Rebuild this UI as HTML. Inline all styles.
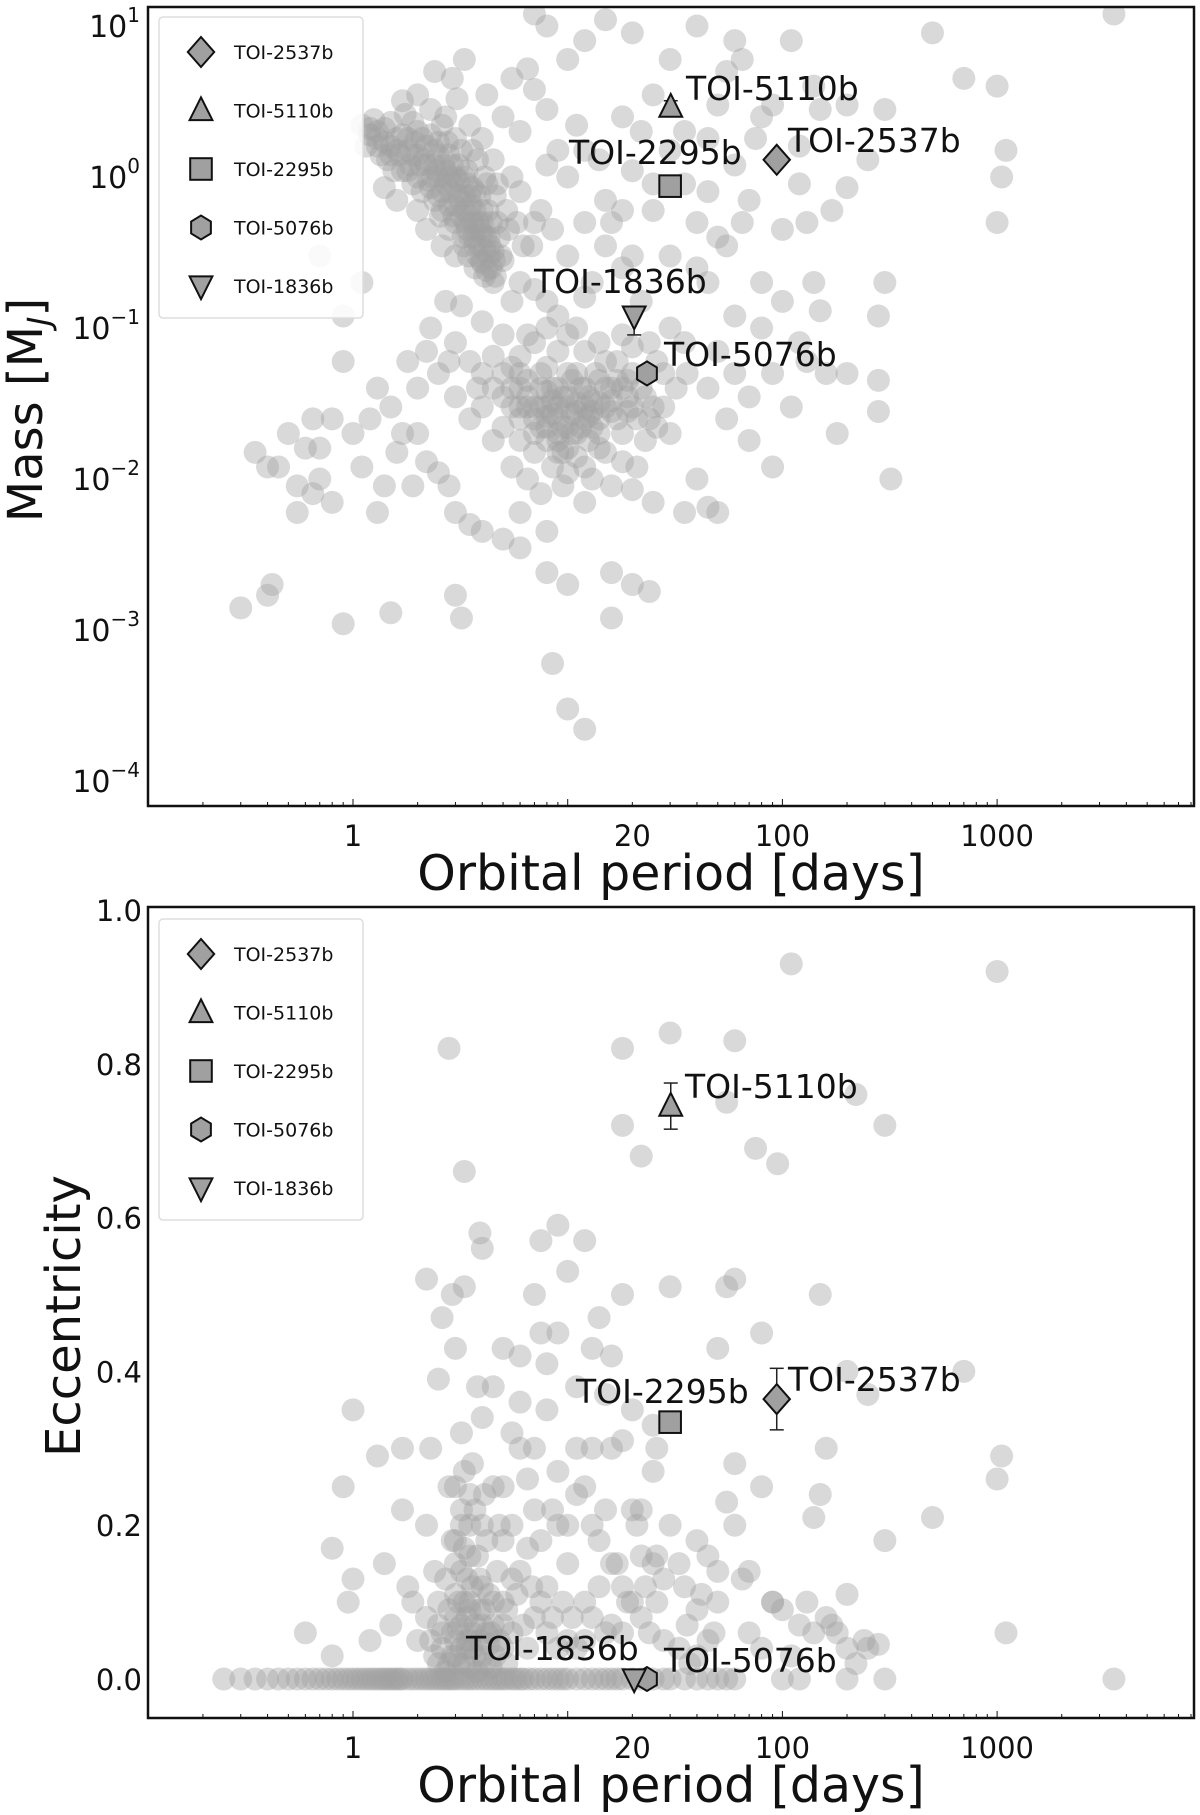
<!DOCTYPE html>
<html><head><meta charset="utf-8">
<style>
html,body{margin:0;padding:0;background:#fff;}
svg{display:block;font-family:"DejaVu Sans","Liberation Sans",sans-serif;}
</style></head>
<body>
<svg id="fig" width="1200" height="1815" viewBox="0 0 1200 1815" xmlns="http://www.w3.org/2000/svg">
<defs>
<clipPath id="clipTop"><rect x="148" y="7" width="1046" height="799"/></clipPath>
<clipPath id="clipBot"><rect x="148" y="907" width="1046" height="811"/></clipPath>
</defs>
<g id="topBg" clip-path="url(#clipTop)"></g>
<g id="botBg" clip-path="url(#clipBot)"></g>
<g id="topAx"></g>
<g id="botAx"></g>
</svg>
<script>
// ---- data ----
const massPoints = [[1.1,2.2],[1.2,1.9],[1.25,2.4],[1.3,1.6],[1.4,2.1],[1.45,1.3],[1.5,2.3],[1.6,1.8],[1.7,1.1],[1.75,2.6],[1.8,1.5],[1.9,0.9],[2.0,2.0],[2.05,1.2],[2.1,0.8],[2.2,1.6],[2.3,2.8],[2.35,1.0],[2.4,0.7],[2.5,1.4],[2.55,0.55],[2.6,2.2],[2.7,0.9],[2.75,1.7],[2.8,0.45],[2.9,1.2],[3.0,0.65],[3.05,3.3],[3.1,0.95],[3.2,1.5],[3.25,0.4],[3.3,0.75],[3.4,1.1],[3.45,0.3],[3.5,0.55],[3.6,0.85],[3.7,0.25],[3.75,0.45],[3.8,1.3],[3.9,0.35],[4.0,0.6],[4.1,0.22],[4.2,0.9],[4.3,0.3],[4.4,0.5],[4.5,0.2],[4.6,0.75],[4.8,0.4],[5.0,0.28],[5.2,0.6],[5.5,1.0],[5.8,0.5],[6.0,0.8],[2.2,0.45],[2.6,0.35],[3.0,0.3],[2.0,0.6],[1.6,0.7],[1.4,0.85],[3.5,2.2],[4,1.8],[4.5,1.3],[5,2.5],[2.9,4.5],[2.4,5],[3.3,6],[2.0,3.5],[1.7,3.2],[4.2,3.5],[5.5,4.5],[6.5,5.2],[7,3.8],[8,2.8],[9,1.5],[10,1.0],[7.5,0.6],[6.8,0.35],[8.5,0.45],[10,0.3],[12,0.5],[11,2.2],[14,1.3],[15,0.7],[18,2.5],[20,1.1],[25,0.6],[30,1.5],[35,0.9],[40,0.5],[45,1.8],[50,0.4],[60,1.2],[70,0.7],[80,2.5],[100,0.45],[120,0.9],[150,2.8],[200,0.85],[250,1.3],[300,2.8],[500,9],[700,4.5],[1000,4],[1100,1.5],[1050,1.0],[1000,0.5],[3500,12],[300,0.2],[280,0.12],[280,0.045],[280,0.028],[320,0.01],[200,0.05],[180,0.02],[150,0.13],[120,0.08],[100,0.15],[80,0.2],[60,0.12],[50,0.07],[45,0.04],[55,0.025],[70,0.018],[90,0.012],[110,0.03],[130,0.06],[40,0.01],[35,0.006],[30,0.02],[25,0.03],[22,0.15],[18,0.25],[15,0.35],[13,0.2],[30,0.3],[40,0.25],[55,5],[60,8],[40,10],[30,6],[25,3.5],[20,9],[15,11],[10,6],[12,8],[8,10],[7,12],[110,8],[200,3],[35,2],[3,0.08],[3.5,0.06],[4,0.05],[4.5,0.04],[5,0.035],[5.5,0.03],[6,0.025],[6.5,0.045],[7,0.02],[7.5,0.03],[8,0.018],[8.5,0.04],[9,0.025],[9.5,0.015],[10,0.03],[10.5,0.02],[11,0.05],[12,0.012],[12.5,0.035],[13,0.022],[14,0.045],[15,0.015],[16,0.028],[17,0.06],[18,0.02],[19,0.035],[20,0.05],[22,0.04],[24,0.025],[26,0.06],[28,0.03],[6,0.065],[7,0.08],[8,0.055],[9,0.07],[10,0.09],[11,0.1],[5,0.09],[4,0.11],[3.2,0.14],[4.5,0.018],[5.5,0.012],[6.5,0.01],[7.5,0.008],[8.5,0.012],[9.5,0.009],[3.5,0.025],[3,0.035],[2.5,0.05],[2.2,0.07],[2,0.04],[2,0.02],[1.5,0.03],[1.2,0.025],[1,0.02],[0.8,0.025],[0.6,0.016],[0.7,0.01],[0.8,0.007],[0.55,0.006],[0.65,0.008],[1.1,0.012],[1.4,0.009],[1.6,0.015],[2.5,0.011],[3,0.006],[3.5,0.005],[4,0.0045],[5,0.004],[6,0.006],[8,0.0045],[12,0.007],[16,0.009],[20,0.0085],[25,0.007],[45,0.0065],[50,0.006],[6,0.0035],[8,0.0024],[10,0.002],[16,0.0024],[20,0.002],[24,0.0018],[3,0.0017],[3.2,0.0012],[1.5,0.0013],[0.3,0.0014],[0.4,0.0017],[0.42,0.002],[0.9,0.0011],[8.5,0.0006],[10,0.0003],[12,0.00022],[16,0.0012],[0.35,0.015],[0.55,0.009],[0.9,0.06],[0.9,0.12],[1.1,0.2],[0.7,0.3],[0.45,0.012],[0.65,0.025],[7,0.03],[9,0.04],[11,0.028],[13,0.033],[6,0.04],[8,0.03],[10,0.022],[12,0.03],[14,0.025],[5,0.05],[7.5,0.05],[16,0.04],[20,0.03],[9,0.015]];
const massPointsExtra = [[1.15,1.6],[1.3,2.0],[1.35,1.4],[1.5,1.6],[1.55,1.1],[1.65,1.4],[1.85,1.2],[1.95,1.7],[2.15,1.3],[2.25,0.95],[2.45,1.1],[2.65,1.2],[2.85,0.8],[2.95,0.55],[3.15,0.7],[3.35,0.5],[3.55,0.65],[3.65,0.4],[3.85,0.5],[3.95,0.28],[4.15,0.4],[4.25,0.6],[4.35,0.35],[4.55,0.28],[4.7,0.5],[2.5,0.75],[2.8,1.0],[3.1,1.2],[3.0,1.8],[2.7,2.5],[2.3,1.9],[1.9,2.3],[2.6,0.6],[3.4,0.9],[3.9,0.75],[4.1,1.0],[3.7,0.6],[3.3,0.35],[4.0,0.42],[4.4,0.25],[3.6,1.5],[4.7,0.9],[5.3,0.45],[6.2,0.35],[7,0.5],[6,0.2],[5.5,0.15],[7,0.18],[9,0.12],[8,0.15],[12,0.16],[6.5,0.09],[8,0.1],[12,0.07],[14,0.08],[15,0.06],[18,0.09],[20,0.075],[24,0.08],[30,0.1],[35,0.08],[36,0.05],[32,0.04],[28,0.05],[26,0.022],[23,0.018],[21,0.012],[18,0.013],[14,0.016],[13,0.01],[11,0.014],[10,0.011],[9,0.02],[8,0.022],[7,0.015],[6,0.018],[5,0.022],[4,0.03],[4.5,0.065],[5.5,0.055],[6.5,0.03],[7.5,0.04],[8.5,0.027],[9.5,0.035],[10.5,0.045],[11.5,0.022],[12.5,0.018],[13.5,0.05],[15,0.03],[17,0.025],[19,0.045],[21,0.025],[23,0.035],[8,0.038],[10,0.05],[12,0.04],[14,0.032],[6,0.05],[3.8,0.04],[2.8,0.06],[2.3,0.1],[2.7,0.15],[1.8,0.06],[1.3,0.04],[1.7,0.02],[2.2,0.013],[2.8,0.009],[0.5,0.02],[0.4,0.012],[0.7,0.016],[1.3,0.006],[1.9,0.009],[60,0.05],[70,0.035],[80,0.1],[90,0.05],[140,0.2],[160,0.05],[45,0.2],[55,0.35],[65,0.5],[75,1.8],[90,3],[120,1.6],[130,0.5],[170,0.6],[20,0.3],[16,0.5],[18,0.6],[25,0.9],[22,2],[50,3],[65,6],[140,4],[45,0.8],[12,1.5],[8,1.2],[6,2]];
const massPointsDense = [[1.2,2.1],[1.3,1.8],[1.4,1.7],[1.5,1.4],[1.6,1.5],[1.7,1.9],[1.8,1.1],[1.9,1.4],[2.0,1.0],[2.1,1.8],[2.2,1.2],[2.3,0.85],[2.4,1.5],[2.5,1.0],[2.6,0.8],[2.7,1.1],[2.8,0.65],[2.9,0.9],[3.0,0.5],[3.1,0.75],[3.2,0.55],[3.3,0.6],[3.4,0.45],[3.5,0.4],[3.6,0.5],[3.7,0.35],[3.8,0.3],[3.9,0.45],[4.0,0.27],[4.1,0.33],[4.2,0.24],[4.3,0.4],[4.5,0.32],[3.0,1.0],[2.5,1.7],[2.0,1.4],[3.5,0.75],[4.0,0.5],[2.8,1.4],[3.3,1.0],[4.6,0.22],[4.9,0.3],[3.7,0.8],[2.4,1.2],[1.8,1.8],[7,0.025],[8,0.026],[9,0.03],[10,0.035],[11,0.032],[12,0.025],[13,0.028],[8.5,0.033],[9.5,0.022],[10.5,0.027],[7.5,0.022],[6.5,0.035],[11.5,0.04],[12.5,0.026],[9,0.018],[10,0.016],[11,0.02],[6,0.03],[5.5,0.04],[14,0.02],[15,0.04],[16,0.033],[17,0.045],[18,0.04],[19,0.028]];
const eccPoints = [[0.3,0],[0.4,0],[0.45,0],[0.5,0],[0.55,0],[0.6,0],[0.65,0],[0.7,0],[0.8,0],[0.9,0],[1,0],[1.1,0],[1.2,0],[1.3,0],[1.4,0],[1.5,0],[1.6,0],[1.7,0],[1.8,0],[2,0],[2.2,0],[2.4,0],[2.6,0],[2.8,0],[3,0],[3.3,0],[3.6,0],[4,0],[4.4,0],[4.8,0],[5.2,0],[5.7,0],[6.2,0],[7,0],[8,0],[9,0],[10,0],[11,0],[12,0],[14,0],[16,0],[18,0],[25,0],[28,0],[35,0],[40,0],[45,0],[100,0],[120,0],[200,0],[300,0],[3500,0],[2,0.05],[2.5,0.1],[3,0.08],[3,0.15],[3.5,0.05],[3.5,0.2],[4,0.12],[4,0.03],[4.5,0.25],[5,0.1],[5,0.18],[5.5,0.06],[6,0.3],[6,0.14],[7,0.22],[7,0.08],[8,0.12],[8,0.35],[9,0.2],[10,0.05],[10,0.15],[12,0.25],[12,0.1],[14,0.18],[15,0.06],[16,0.3],[18,0.12],[20,0.22],[22,0.08],[25,0.15],[28,0.05],[30,0.2],[35,0.12],[40,0.09],[45,0.16],[50,0.14],[55,0.23],[60,0.28],[70,0.06],[80,0.25],[90,0.1],[100,0.09],[120,0.07],[140,0.21],[150,0.24],[160,0.3],[180,0.06],[200,0.11],[250,0.04],[300,0.18],[500,0.21],[1050,0.29],[1000,0.26],[1100,0.06],[1000,0.92],[110,0.93],[30,0.84],[60,0.83],[18,0.82],[2.8,0.82],[18,0.72],[22,0.68],[55,0.75],[75,0.69],[95,0.67],[220,0.76],[300,0.72],[3.3,0.66],[3.9,0.58],[4,0.56],[7.5,0.57],[9,0.59],[12,0.57],[10,0.53],[18,0.5],[30,0.51],[55,0.51],[60,0.52],[150,0.5],[2.2,0.52],[2.6,0.47],[2.9,0.5],[3.3,0.51],[7,0.5],[7.5,0.45],[14,0.47],[80,0.45],[3,0.43],[5,0.43],[6,0.42],[8,0.41],[3.8,0.38],[2.5,0.39],[4.5,0.38],[6,0.36],[1,0.35],[20,0.35],[25,0.33],[250,0.37],[200,0.4],[700,0.4],[50,0.43],[13,0.43],[4,0.34],[3.2,0.32],[5.5,0.32],[1.7,0.3],[2.3,0.3],[7,0.3],[18,0.31],[26,0.3],[0.9,0.25],[1.3,0.29],[1.7,0.22],[0.8,0.17],[1.4,0.15],[1,0.13],[0.95,0.1],[0.6,0.06],[0.8,0.03],[1.2,0.05],[1.5,0.07],[1.8,0.12],[2.2,0.2],[2.8,0.25],[3.2,0.22],[3.6,0.28],[4.2,0.18],[6.5,0.26],[9,0.27],[11,0.24],[13,0.2],[15,0.22],[17,0.15],[19,0.1],[21,0.2],[23,0.12],[26,0.16],[33,0.15],[36,0.07],[42,0.11],[48,0.06],[60,0.2],[65,0.13],[90,0.1],[110,0.03],[140,0.06],[160,0.08],[200,0.04],[220,0.02],[280,0.045],[2.5,0.02],[3.5,0.1],[4.5,0.07],[5.5,0.13],[6.5,0.04],[8,0.06],[9.5,0.1],[11,0.04],[13,0.08],[16,0.07],[3,0.03],[4,0.07],[5,0.04],[2.7,0.13],[3.8,0.16],[4.8,0.2],[3,0.05],[3.3,0.02],[3.6,0.04],[4.2,0.06],[3.1,0.1],[2.9,0.06],[3.4,0.13],[4.5,0.1],[5.2,0.02],[2.6,0.04]];
const eccPointsExtra = [[0.25,0],[0.35,0],[0.75,0],[0.85,0],[0.95,0],[1.05,0],[1.15,0],[1.25,0],[1.35,0],[1.45,0],[1.55,0],[1.65,0],[1.9,0],[2.1,0],[2.3,0],[2.5,0],[2.7,0],[2.9,0],[3.15,0],[3.45,0],[3.8,0],[4.2,0],[4.6,0],[5,0],[5.5,0],[6,0],[6.6,0],[7.5,0],[8.5,0],[9.5,0],[13,0],[15,0],[17,0],[20,0],[22,0],[30,0],[50,0],[55,0],[60,0],[2.4,0.03],[2.8,0.02],[3.2,0.04],[3.5,0.015],[3.7,0.03],[4.1,0.02],[4.3,0.045],[4.6,0.03],[3.1,0.065],[3.4,0.08],[3.9,0.09],[4.3,0.11],[4.7,0.14],[3.6,0.12],[3.3,0.17],[3.7,0.22],[4.1,0.24],[3.3,0.27],[2.9,0.18],[2.4,0.14],[2.2,0.08],[1.9,0.1],[5.2,0.09],[5.8,0.11],[6.2,0.07],[6.8,0.12],[7.5,0.1],[8.5,0.08],[9,0.04],[10.5,0.08],[12,0.05],[14,0.12],[16,0.15],[18,0.06],[20,0.1],[22,0.16],[24,0.06],[26,0.1],[5,0.25],[5.5,0.2],[6.5,0.17],[7.5,0.18],[8.5,0.22],[10,0.2],[11,0.3],[13,0.3],[15,0.37],[11,0.38],[9,0.45],[16,0.42],[22,0.22],[25,0.27],[40,0.18],[45,0.05],[40,0.03],[50,0.1],[70,0.14],[80,0.04],[130,0.1],[170,0.07],[240,0.05],[33,0.04],[37,0.02],[28,0.13]];
const eccPointsDense = [[2.6,0.06],[2.8,0.09],[3.0,0.11],[3.2,0.07],[3.4,0.05],[3.5,0.09],[3.7,0.07],[3.9,0.05],[4.1,0.09],[4.4,0.06],[3.0,0.18],[3.2,0.14],[3.5,0.16],[3.3,0.1],[3.6,0.06],[2.9,0.03],[3.1,0.02],[3.8,0.01],[4.4,0.015],[2.7,0.01],[3.2,0.2],[3.5,0.24],[3.0,0.25],[4.0,0.2],[2.5,0.07],[4.8,0.05],[5.0,0.07],[2.3,0.05],[3.9,0.13],[3.4,0.04]];
const toiNames = ["TOI-2537b","TOI-5110b","TOI-2295b","TOI-5076b","TOI-1836b"];
const toiPeriod = [94.1, 30.2, 30.0, 23.4, 20.4];
const toiMass = [1.3, 2.9, 0.87, 0.05, 0.12];
const toiEcc = [0.364, 0.745, 0.334, 0.0, 0.0];
const toiEccErr = [0.04, 0.03, 0.01, 0, 0];
const toiMassLo = [1.2, 2.6, 0.8, 0.046, 0.09];
const toiMassHi = [1.42, 3.2, 0.94, 0.054, 0.135];
const xTicks = [1, 20, 100, 1000];
const massTicks = [1, 0, -1, -2, -3, -4];
const eccTicks = [0.0, 0.2, 0.4, 0.6, 0.8, 1.0];

// ---- axes ----
const X0=148, X1=1194;
const xPx = p => 353 + Math.log10(p) * 214.7;
const yMass = m => 177 - Math.log10(m) * 151;
const yEcc = e => 1679 - e * 769;
const NS="http://www.w3.org/2000/svg";
function mk(tag, attrs, parent){const el=document.createElementNS(NS,tag);for(const k in attrs)el.setAttribute(k,attrs[k]);parent.appendChild(el);return el;}

const topBg=document.getElementById('topBg'), botBg=document.getElementById('botBg');
massPoints.concat(massPointsExtra, massPointsDense).forEach(d=>{
  const c=mk('circle',{cx:xPx(d[0]),cy:yMass(d[1]),r:11.5,fill:'#a0a0a0','fill-opacity':0.4},topBg);
  
  
});
eccPoints.concat(eccPointsExtra, eccPointsDense).forEach(d=>{
  const c=mk('circle',{cx:xPx(d[0]),cy:yEcc(d[1]),r:11.5,fill:'#a0a0a0','fill-opacity':0.4},botBg);
  
  
});

function marker(i,cx,cy,s,parent){
  const st={fill:'#a0a0a0',stroke:'#111','stroke-width':2};
  let el;
  if(i===0) el=mk('polygon',Object.assign({points:`${cx},${cy-s*1.25} ${cx+s*1.1},${cy} ${cx},${cy+s*1.25} ${cx-s*1.1},${cy}`},st),parent);
  else if(i===1) el=mk('polygon',Object.assign({points:`${cx},${cy-s*1.1} ${cx+s*0.95},${cy+s*0.8} ${cx-s*0.95},${cy+s*0.8}`},st),parent);
  else if(i===2) el=mk('rect',Object.assign({x:cx-s*0.9,y:cy-s*0.9,width:s*1.8,height:s*1.8},st),parent);
  else if(i===3){let p=[];for(let k=0;k<6;k++){const a=Math.PI/6+k*Math.PI/3;p.push((cx+s*0.95*Math.cos(a))+','+(cy+s*1.0*Math.sin(a)));}el=mk('polygon',Object.assign({points:p.join(' ')},st),parent);}
  else el=mk('polygon',Object.assign({points:`${cx},${cy+s*1.1} ${cx+s*0.95},${cy-s*0.8} ${cx-s*0.95},${cy-s*0.8}`},st),parent);
  return el;
}
function text(str,x,y,size,parent,anchor){const t=mk('text',{x:x,y:y,'font-size':size,fill:'#111','text-anchor':anchor||'start'},parent);t.textContent=str;return t;}

function panel(g, yFn, isMass, top, bottom, legTop, labelPos){
  mk('rect',{x:X0,y:top,width:X1-X0,height:bottom-top,fill:'none',stroke:'#111','stroke-width':2.5},g);
  for(let dec=-1;dec<4;dec++)for(let k=1;k<10;k++){const v=k*Math.pow(10,dec);const x=xPx(v);if(x<X0||x>X1)continue;
    mk('line',{x1:x,x2:x,y1:bottom,y2:bottom-(k===1?7:4),stroke:'#111','stroke-width':1},g);}
  xTicks.forEach(v=>{const t=text(String(v),xPx(v),bottom+40,29,g,'middle');
    
    });
  const xl=text('Orbital period [days]',671,bottom+84,49,g,'middle');
  
  
  if(isMass){
    massTicks.forEach(e=>{const y=yFn(Math.pow(10,e));
      const t=mk('text',{x:140,y:y+11,'font-size':30,fill:'#111','text-anchor':'end'},g);
      t.textContent='10';
      const sp=mk('tspan',{dy:-15,'font-size':20},t);sp.textContent=e<0?'\u2212'+(-e):String(e);
      
      });
    const yl=mk('text',{x:0,y:0,'font-size':48,fill:'#111','text-anchor':'middle',transform:'translate(42,410) rotate(-90)'},g);
    yl.textContent='Mass [M';const s=mk('tspan',{'font-size':32,dy:8,'font-style':'italic'},yl);s.textContent='J';const s2=mk('tspan',{dy:-8},yl);s2.textContent=']';
    
    
  } else {
    eccTicks.forEach(e=>{const t=text(e.toFixed(1),142,yFn(e)+11,29,g,'end');
      
      });
    const yl=mk('text',{x:0,y:0,'font-size':48,fill:'#111','text-anchor':'middle',transform:'translate(80,1316) rotate(-90)'},g);
    yl.textContent='Eccentricity';
    
    
  }
  toiNames.forEach((n,i)=>{
    const cx=xPx(toiPeriod[i]);
    let cy, lo, hi;
    if(isMass){cy=yMass(toiMass[i]);lo=yMass(toiMassLo[i]);hi=yMass(toiMassHi[i]);}
    else {cy=yEcc(toiEcc[i]);lo=yEcc(toiEcc[i]-toiEccErr[i]);hi=yEcc(toiEcc[i]+toiEccErr[i]);}
    const eg=mk('g',{},g);
    
    
    if(Math.abs(lo-hi)>3){
      mk('line',{x1:cx,x2:cx,y1:lo,y2:hi,stroke:'#222','stroke-width':1.5},eg);
      mk('line',{x1:cx-7,x2:cx+7,y1:lo,y2:lo,stroke:'#222','stroke-width':1.5},eg);
      mk('line',{x1:cx-7,x2:cx+7,y1:hi,y2:hi,stroke:'#222','stroke-width':1.5},eg);
    }
    const m=marker(i,cx,cy,12,g);
    
    
    const lp=labelPos[i];
    const t=text(n,lp[0],lp[1],33,g);
    
    
  });
  const lg=mk('g',{},g);
  
  
  mk('rect',{x:159,y:legTop,width:204,height:301,rx:4,fill:'#fff','fill-opacity':0.85,stroke:'#ddd','stroke-width':1.5},lg);
  toiNames.forEach((n,i)=>{
    const y=legTop+35+i*58.5;
    const e=mk('g',{},lg);
    
    
    marker(i,201,y,12,e);
    text(n,234,y+7,19,e);
  });
}
panel(document.getElementById('topAx'), yMass, true, 7, 806, 17,
  [[788,152],[686,100],[569,164],[664,366],[534,293]]);
panel(document.getElementById('botAx'), yEcc, false, 907, 1718, 919,
  [[788,1391],[685,1098],[576,1403],[664,1672],[466,1660]]);
</script>
</body></html>
